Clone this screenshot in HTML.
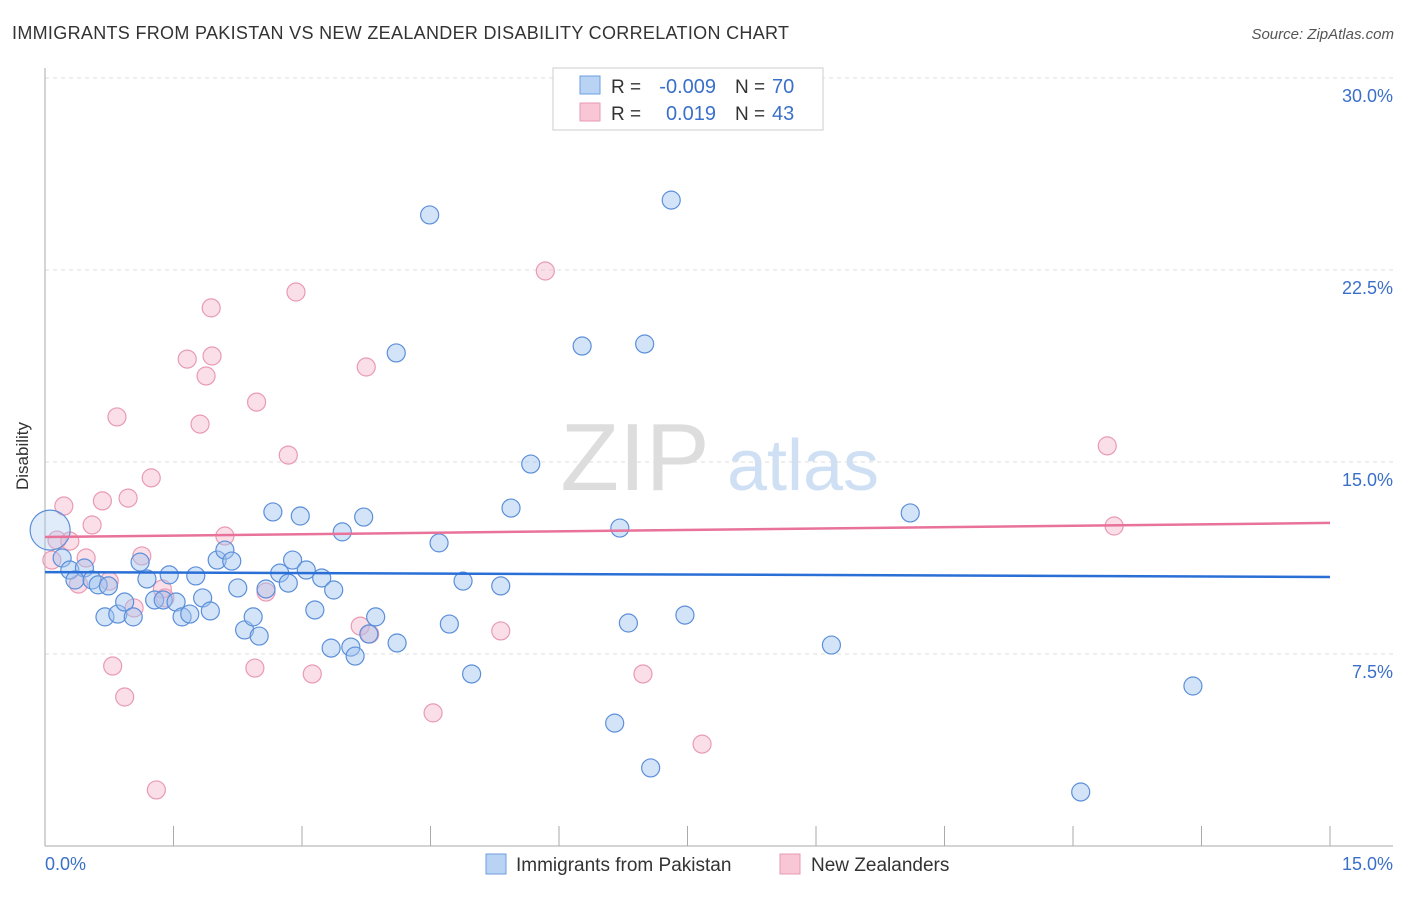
<!DOCTYPE html>
<html><head><meta charset="utf-8"><style>
body{margin:0;background:#fff;font-family:"Liberation Sans",sans-serif}
svg text{font-family:"Liberation Sans",sans-serif}
</style></head><body>
<svg id="c" width="1406" height="892" viewBox="0 0 1406 892">
<text x="12" y="39" font-size="18" fill="#333" textLength="777">IMMIGRANTS FROM PAKISTAN VS NEW ZEALANDER DISABILITY CORRELATION CHART</text>
<text x="1394" y="39" font-size="15" fill="#555" font-style="italic" text-anchor="end">Source: ZipAtlas.com</text>
<g>
<text x="635" y="490" font-size="96" fill="#ddd" font-family="Liberation Serif" text-anchor="middle">ZIP</text>
<text x="803" y="490" font-size="72" fill="#cfe0f5" text-anchor="middle">atlas</text></g>
<g id="grid"></g><g id="axes"></g><g id="marks"></g>
<text x="28" y="456" font-size="17" fill="#333" text-anchor="middle" transform="rotate(-90 28 456)">Disability</text>
<g>
<rect x="553" y="68" width="270" height="62" fill="#fff" stroke="#ccc"/>
<rect x="580" y="76" width="20" height="18" fill="#b9d3f5" stroke="#6d9de0"/>
<text x="611" y="93" font-size="19" fill="#333">R =</text>
<text x="716" y="93" font-size="20" fill="#3a70c9" text-anchor="end">-0.009</text>
<text x="735" y="93" font-size="19" fill="#333">N =</text>
<text x="772" y="93" font-size="20" fill="#3a70c9">70</text>
<rect x="580" y="103" width="20" height="18" fill="#f8c6d5" stroke="#e99ab3"/>
<text x="611" y="120" font-size="19" fill="#333">R =</text>
<text x="716" y="120" font-size="20" fill="#3a70c9" text-anchor="end">0.019</text>
<text x="735" y="120" font-size="19" fill="#333">N =</text>
<text x="772" y="120" font-size="20" fill="#3a70c9">43</text>
</g>
<g>
<rect x="486" y="854" width="20" height="20" fill="#b9d3f5" stroke="#6d9de0"/>
<text x="516" y="871" font-size="19" fill="#333">Immigrants from Pakistan</text>
<rect x="780" y="854" width="20" height="20" fill="#f8c6d5" stroke="#e99ab3"/>
<text x="811" y="871" font-size="19" fill="#333">New Zealanders</text>
</g>
</svg>
<script>
const yTicks=[7.5,15,22.5,30];
const yTickLabels=["7.5%","15.0%","22.5%","30.0%"];
const xTicks=[0,1.5,3,4.5,6,7.5,9,10.5,12,13.5,15];
const blueX=[0.06,0.20,0.29,0.46,0.35,0.55,0.62,0.74,0.70,0.85,0.93,1.03,1.11,1.19,1.28,1.38,1.45,1.53,1.60,1.69,1.76,1.84,1.93,2.01,2.10,2.18,2.25,2.33,2.43,2.50,2.58,2.66,2.74,2.84,2.89,2.98,3.05,3.15,3.23,3.34,3.37,3.47,3.57,3.62,3.72,3.78,3.86,4.10,4.11,4.49,4.60,4.72,4.88,4.98,5.32,5.44,5.67,6.27,6.65,6.71,6.81,7.00,7.07,7.31,7.47,9.18,10.10,12.09,13.40];
const blueY=[12.34,11.25,10.78,10.86,10.39,10.39,10.20,10.16,8.95,9.06,9.53,8.95,11.09,10.43,9.61,9.61,10.59,9.53,8.95,9.06,10.55,9.69,9.18,11.17,11.56,11.13,10.08,8.44,8.95,8.20,10.04,13.05,10.66,10.27,11.17,12.89,10.78,9.22,10.47,7.73,10.00,12.27,7.77,7.42,12.85,8.28,8.95,19.26,7.93,24.65,11.84,8.67,10.35,6.72,10.16,13.20,14.92,19.53,4.80,12.42,8.71,19.61,3.05,25.23,9.02,7.85,13.01,2.11,6.25];
const pinkX=[0.08,0.14,0.22,0.29,0.39,0.48,0.55,0.67,0.75,0.79,0.84,0.93,0.97,1.04,1.13,1.24,1.30,1.37,1.40,1.66,1.81,1.88,1.94,1.95,2.10,2.45,2.47,2.58,2.84,2.93,3.12,3.68,3.75,3.79,4.53,5.32,5.84,6.98,7.67,12.40,12.48];
const pinkY=[11.17,11.95,13.28,11.91,10.23,11.25,12.54,13.48,10.35,7.03,16.76,5.82,13.59,9.30,11.33,14.38,2.19,10.04,9.69,19.02,16.48,18.36,21.02,19.14,12.11,6.95,17.34,9.92,15.27,21.64,6.72,8.59,18.71,8.28,5.20,8.40,22.46,6.72,3.98,15.63,12.50];
const blueTrend=[10.70,10.51];
const pinkTrend=[12.07,12.62];
const NS="http://www.w3.org/2000/svg";
const sx=v=>45+v/15*1285, sy=v=>846-v/7.5*192;
function mk(t,a,p){const e=document.createElementNS(NS,t);for(const k in a)e.setAttribute(k,a[k]);document.getElementById(p).appendChild(e);return e;}
yTicks.forEach((t,i)=>{
 const l=mk('line',{x1:45,x2:1393,y1:sy(t),y2:sy(t),stroke:'#ddd','stroke-dasharray':'4,4'},'grid');
 
 
 const tx=mk('text',{x:1393,y:sy(t)+24,'font-size':18,fill:'#3a70c9','text-anchor':'end'},'axes');tx.textContent=yTickLabels[i];
 
 
});
mk('line',{x1:45,x2:45,y1:68,y2:846,stroke:'#aaa'},'axes');
mk('line',{x1:45,x2:1393,y1:846,y2:846,stroke:'#aaa'},'axes');
xTicks.forEach(t=>{const l=mk('line',{x1:sx(t),x2:sx(t),y1:826,y2:846,stroke:'#aaa'},'axes');
 
 });
let a=mk('text',{x:45,y:870,'font-size':18,fill:'#3a70c9'},'axes');a.textContent='0.0%';


a=mk('text',{x:1393,y:870,'font-size':18,fill:'#3a70c9','text-anchor':'end'},'axes');a.textContent='15.0%';


function pts(X,Y,fill,stroke,name){X.forEach((x,i)=>{const big=(i==0&&name=='blue-point');const c=mk('circle',{cx:sx(x),cy:sy(Y[i]),r:big?20:9,fill:big?'rgba(170,200,240,0.35)':fill,stroke,'stroke-width':1.2},'marks');
 
 });}
pts(pinkX,pinkY,'rgba(245,175,198,0.4)','#e99ab3','pink-point');
pts(blueX,blueY,'rgba(160,196,240,0.45)','#5b8fd9','blue-point');
let t=mk('line',{x1:sx(0),x2:sx(15),y1:sy(blueTrend[0]),y2:sy(blueTrend[1]),stroke:'#2a6fd6','stroke-width':2.5},'marks');


t=mk('line',{x1:sx(0),x2:sx(15),y1:sy(pinkTrend[0]),y2:sy(pinkTrend[1]),stroke:'#e8729a','stroke-width':2.5},'marks');


</script>
</body></html>
